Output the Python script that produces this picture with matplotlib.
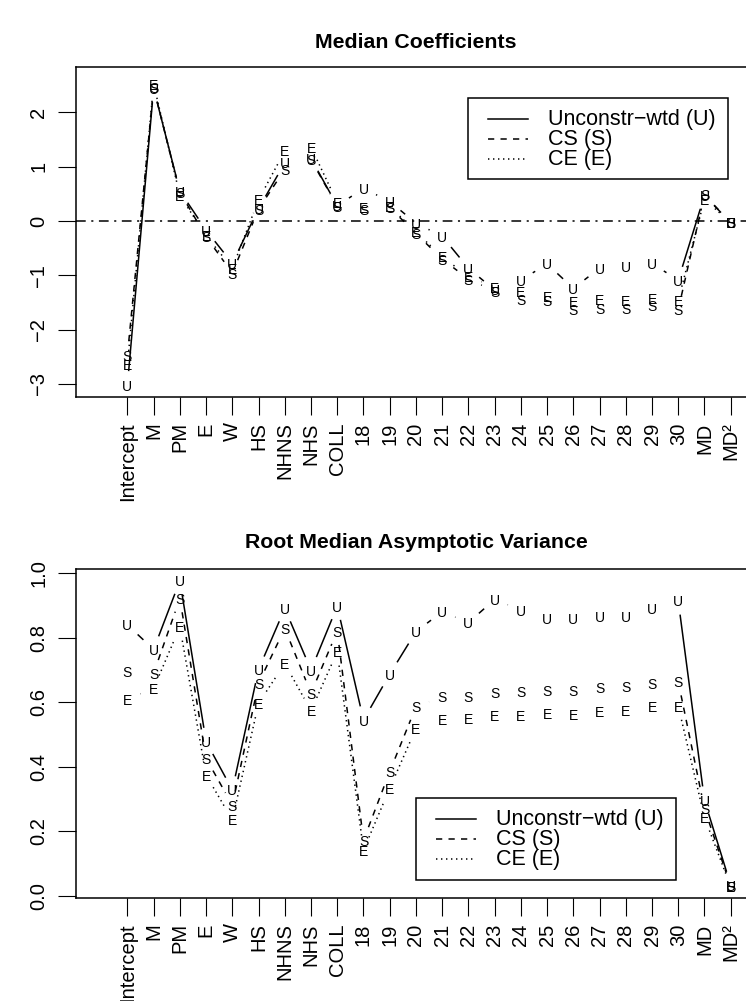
import matplotlib
matplotlib.use("Agg")
import numpy as np
import matplotlib.pyplot as plt
from matplotlib.lines import Line2D
from matplotlib.patches import Rectangle

plt.rcParams['font.family'] = ['Liberation Sans', 'DejaVu Sans']
plt.rcParams['lines.scale_dashes'] = False

# Category labels (x axis)
labels = ['Intercept', 'M', 'PM', 'E', 'W', 'HS', 'NHNS', 'NHS', 'COLL',
          '18', '19', '20', '21', '22', '23', '24', '25', '26', '27', '28',
          '29', '30', 'MD', 'MD²']

# Median coefficients
coef_u = [-3.02, 2.44, 0.55, -0.17, -0.78, 0.23, 1.07, 1.15, 0.28, 0.60, 0.36, -0.04,
          -0.28, -0.87, -1.27, -1.09, -0.79, -1.24, -0.87, -0.84, -0.78, -1.09, 0.47, -0.03]
coef_s = [-2.47, 2.45, 0.53, -0.29, -0.96, 0.22, 0.95, 1.13, 0.27, 0.22, 0.25, -0.23,
          -0.70, -1.07, -1.29, -1.45, -1.47, -1.63, -1.61, -1.61, -1.56, -1.63, 0.48, -0.03]
coef_e = [-2.65, 2.52, 0.47, -0.27, -0.87, 0.39, 1.29, 1.36, 0.34, 0.25, 0.27, -0.20,
          -0.66, -1.02, -1.22, -1.30, -1.39, -1.49, -1.45, -1.46, -1.42, -1.46, 0.40, -0.03]

# Root median asymptotic variance
var_u = [0.840, 0.764, 0.977, 0.478, 0.328, 0.702, 0.891, 0.700, 0.898, 0.545, 0.687, 0.819,
         0.881, 0.847, 0.919, 0.886, 0.860, 0.860, 0.865, 0.865, 0.891, 0.915, 0.296, 0.033]
var_s = [0.695, 0.690, 0.922, 0.426, 0.281, 0.659, 0.829, 0.628, 0.821, 0.172, 0.385, 0.586,
         0.617, 0.619, 0.631, 0.633, 0.638, 0.636, 0.646, 0.648, 0.659, 0.664, 0.270, 0.030]
var_e = [0.610, 0.643, 0.834, 0.374, 0.235, 0.597, 0.720, 0.574, 0.757, 0.141, 0.333, 0.519,
         0.548, 0.550, 0.558, 0.558, 0.566, 0.563, 0.571, 0.576, 0.586, 0.588, 0.243, 0.028]

series_names = ['Unconstr\u2212wtd (U)', 'CS (S)', 'CE (E)']
letters = ['U', 'S', 'E']
styles = ['-', (0, (4.5, 4.5)), (0, (1.0, 2.6))]

W, H = 746, 1001
fig = plt.figure(figsize=(W / 100, H / 100), dpi=100)
x = np.arange(1, len(labels) + 1)


def fpos(px, py):
    return px / W, 1 - py / H


def broken_line(ax, xs, ys, ls, gap=14):
    # like R type="b": segments stop short of each point
    pts = ax.transData.transform(np.column_stack([xs, ys]))
    inv = ax.transData.inverted()
    for p0, p1 in zip(pts[:-1], pts[1:]):
        d = p1 - p0
        L = np.hypot(*d)
        if L <= 2 * gap:
            continue
        u = d / L
        a = inv.transform(p0 + u * gap)
        b = inv.transform(p1 - u * gap)
        ax.plot([a[0], b[0]], [a[1], b[1]], color='black', lw=1.1, ls=ls,
                solid_capstyle='butt', dash_capstyle='butt')


def panel(rect, ylim, yticks, data, title, title_y, leg_box):
    ax = fig.add_axes(rect)
    ax.set_xlim(-0.96, 24.96)
    ax.set_ylim(*ylim)
    for sp in ax.spines.values():
        sp.set_linewidth(1.1)
    ax.set_xticks(x)
    ax.set_xticklabels(labels, rotation=90, ha='center', va='top')
    ax.set_yticks(yticks)
    ax.set_yticklabels([f'{t:g}'.replace('-', '\u2212') if isinstance(t, int) else f'{t:.1f}'
                        for t in yticks], rotation=90, va='center', ha='right')
    ax.tick_params(axis='both', direction='out', length=13, width=0.8,
                   labelsize=14.5)
    ax.tick_params(axis='x', pad=5)
    ax.tick_params(axis='y', pad=7)
    for vals, ls, ch in zip(data, styles, letters):
        broken_line(ax, x, vals, ls)
    for vals, ch in zip(data, letters):
        for xi, yi in zip(x, vals):
            ax.text(xi, yi, ch, ha='center', va='center_baseline', fontsize=10)
    cx = (rect[0] + rect[2] / 2)
    fig.text(cx, 1 - title_y / H, title, ha='center', va='center',
             fontsize=15.3, fontweight='bold')
    # legend box
    bx0, by0, bx1, by1 = leg_box
    fig.patches.append(Rectangle(fpos(bx0, by1), (bx1 - bx0) / W, (by1 - by0) / H,
                                 transform=fig.transFigure, fill=False,
                                 lw=1.1, ec='black'))
    for i, (name, ls) in enumerate(zip(series_names, styles)):
        yy = by0 + 21.3 + 20 * i
        fig.lines.append(Line2D([(bx0 + 20) / W, (bx0 + 60) / W], [1 - yy / H] * 2,
                                transform=fig.transFigure, color='black',
                                lw=1.1, ls=ls))
        fig.text((bx0 + 80) / W, 1 - yy / H, name, ha='left', va='center',
                 fontsize=15.5)
    return ax


left = 76 / W
width = 25.92 * 26.23 / W

ax1 = panel([left, (H - 397.3) / H, width, 330 / H], (-3.245, 2.829),
            [-3, -2, -1, 0, 1, 2], [coef_u, coef_s, coef_e],
            'Median Coefficients', 42, (468, 98, 728, 179))
ax1.axhline(0, color='black', lw=1.1, ls=(0, (7, 4, 1.5, 4)))

ax2 = panel([left, (H - 898.3) / H, width, 329.3 / H], (-0.008, 1.0134),
            [0.0, 0.2, 0.4, 0.6, 0.8, 1.0], [var_u, var_s, var_e],
            'Root Median Asymptotic Variance', 543, (416, 798, 676, 880))

fig.savefig('out.png', dpi=100)
